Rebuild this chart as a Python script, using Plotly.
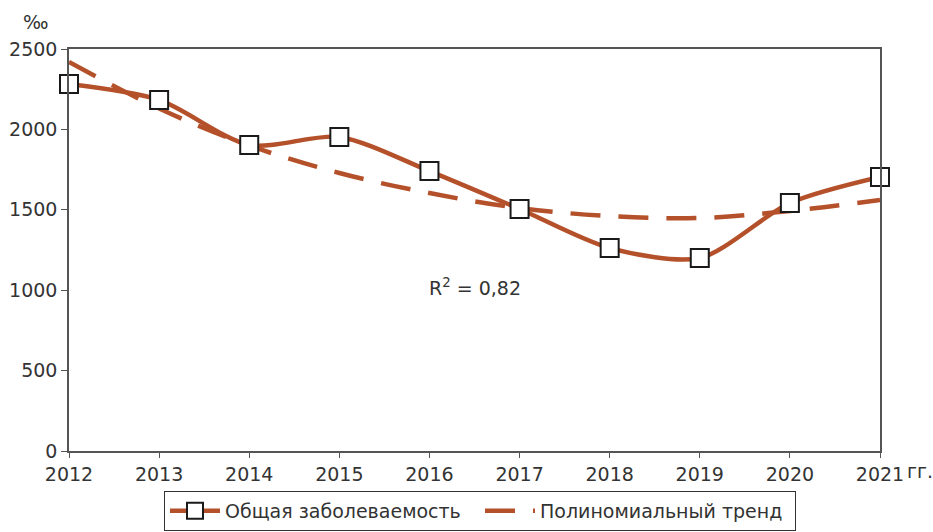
import plotly.graph_objects as go

years = [2012, 2013, 2014, 2015, 2016, 2017, 2018, 2019, 2020, 2021]
morbidity = [2282, 2183, 1903, 1953, 1741, 1505, 1262, 1200, 1542, 1704]
trend = [2419, 2130, 1900, 1729, 1604, 1511, 1461, 1449, 1493, 1561]
y_ticks = [0, 500, 1000, 1500, 2000, 2500]

LINE = "#B5512A"
FONT = "DejaVu Sans, Liberation Sans, Arial, sans-serif"
TXT = "#333333"
FS = 19

fig = go.Figure()
fig.add_trace(go.Scatter(
    x=years, y=trend, mode="lines", name="Полиномиальный тренд",
    line=dict(color=LINE, width=4.5, dash="30px,18px", shape="spline", smoothing=1.0),
    cliponaxis=False,
))
fig.add_trace(go.Scatter(
    x=years, y=morbidity, mode="lines+markers", name="Общая заболеваемость",
    line=dict(color=LINE, width=4.5, shape="spline", smoothing=0.8),
    marker=dict(symbol="square", size=18, color="white",
                line=dict(color="#1a1a1a", width=2)),
    cliponaxis=False,
))

fig.update_layout(
    width=933, height=532,
    margin=dict(l=69, r=53, t=49, b=81, autoexpand=False),
    paper_bgcolor="white", plot_bgcolor="white",
    font=dict(family=FONT, size=FS, color=TXT),
    showlegend=True,
    legend=dict(
        orientation="h", xref="container", yref="container",
        x=480 / 933, xanchor="center", y=1 - 491 / 532, yanchor="top",
        bordercolor="#333333", borderwidth=1, bgcolor="white",
        font=dict(family=FONT, size=FS, color=TXT),
        traceorder="reversed", itemwidth=50,
        entrywidth=250, entrywidthmode="pixels",
    ),
    xaxis=dict(
        range=[2012, 2021], tickvals=years, ticktext=[str(y) for y in years],
        showline=True, linecolor="#555555", linewidth=1.5, mirror=True,
        ticks="outside", ticklen=5, tickcolor="#555555",
        showgrid=False, zeroline=False,
        tickfont=dict(family=FONT, size=FS, color=TXT),
    ),
    yaxis=dict(
        range=[0, 2500], tickvals=y_ticks,
        showline=True, linecolor="#555555", linewidth=1.5, mirror=True,
        ticks="outside", ticklen=6, tickcolor="#555555",
        showgrid=False, zeroline=False,
        tickfont=dict(family=FONT, size=FS, color=TXT),
    ),
    annotations=[
        dict(text="‰", xref="paper", yref="paper", x=-0.041, y=1.067,
             xanchor="center", yanchor="middle", showarrow=False,
             font=dict(family=FONT, size=FS, color=TXT)),
        dict(text="гг.", xref="paper", yref="paper", x=1.0, y=0, xshift=25, yshift=-20,
             xanchor="left", yanchor="middle", showarrow=False,
             font=dict(family=FONT, size=FS, color=TXT)),
        dict(text="R<sup>2</sup> = 0,82", xref="x", yref="y", x=2016.5, y=1020,
             xanchor="center", yanchor="middle", showarrow=False,
             font=dict(family=FONT, size=FS, color=TXT)),
    ],
)

fig.write_html("out.html", config={"displayModeBar": False},
               post_script="document.body.style.margin='0';")
